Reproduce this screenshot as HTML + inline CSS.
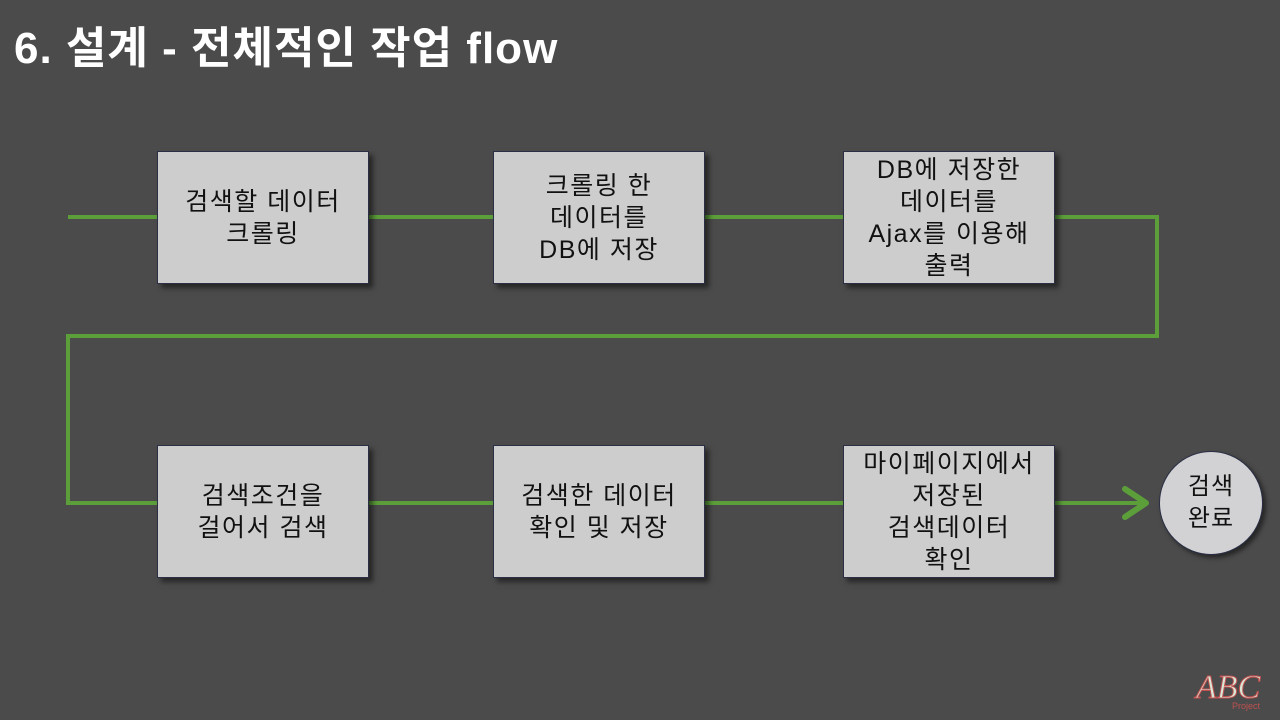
<!DOCTYPE html>
<html><head><meta charset="utf-8"><style>
body{margin:0;width:1280px;height:720px;background:#4b4b4b;overflow:hidden;position:relative;font-family:"Liberation Sans","Noto Sans CJK KR",sans-serif}
.t{position:absolute;left:14px;top:12px;color:#fff;font-size:44px;font-weight:bold;letter-spacing:1px}
.b{position:absolute;width:210px;height:131px;background:#cdcdcd;border:1px solid #2a2f45;box-shadow:4px 4px 5px rgba(0,0,0,.5);display:flex;align-items:center;justify-content:center;text-align:center;font-size:25px;line-height:32px;letter-spacing:1.5px;color:#111}
.c{position:absolute;left:1159px;top:451px;width:102px;height:102px;border-radius:50%;background:#d2d2d4;border:1px solid #2a2f45;box-shadow:3px 3px 5px rgba(0,0,0,.5);display:flex;align-items:center;justify-content:center;text-align:center;font-size:24px;line-height:32px;letter-spacing:1px;color:#111}
svg{position:absolute;left:0;top:0}
</style></head><body>
<div class="t">6. 설계 - 전체적인 작업 flow</div>
<svg width="1280" height="720">
<polyline points="68,217 1157,217 1157,336 68,336 68,503 1146,503" fill="none" stroke="#5c9e3a" stroke-width="4"/>
<polyline points="1125,489 1146,503 1125,517" fill="none" stroke="#5c9e3a" stroke-width="6" stroke-linecap="round" stroke-linejoin="round"/>
<text x="1196" y="698" font-family="Liberation Serif" font-style="italic" font-size="34" fill="#d9e8d6" stroke="#c05050" stroke-width="1">ABC</text>
<text x="1232" y="709" font-family="Liberation Sans" font-size="9" fill="#c05050">Project</text>
</svg>
<div class="b" style="left:157px;top:151px">검색할 데이터<br>크롤링</div>
<div class="b" style="left:493px;top:151px">크롤링 한<br>데이터를<br>DB에 저장</div>
<div class="b" style="left:843px;top:151px">DB에 저장한<br>데이터를<br>Ajax를 이용해<br>출력</div>
<div class="b" style="left:157px;top:445px">검색조건을<br>걸어서 검색</div>
<div class="b" style="left:493px;top:445px">검색한 데이터<br>확인 및 저장</div>
<div class="b" style="left:843px;top:445px">마이페이지에서<br>저장된<br>검색데이터<br>확인</div>
<div class="c">검색<br>완료</div>
</body></html>
